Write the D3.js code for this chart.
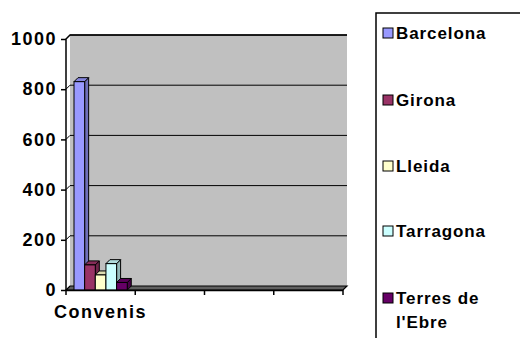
<!DOCTYPE html>
<html>
<head>
<meta charset="utf-8">
<script src="https://cdn.jsdelivr.net/npm/d3@7"></script>
<style>
  html, body { margin: 0; padding: 0; background: #ffffff; }
  svg { display: block; }
  text { font-family: "Liberation Sans", Arial, sans-serif; font-weight: bold; fill: #000; }
</style>
</head>
<body>
<svg id="chart" width="520" height="338"></svg>
<script>
// Categories on the x axis (only the first one carries data)
const categories = ["Convenis", "c2", "c3", "c4"];
const categoryLabels = ["Convenis", "", "", ""];
// Series (one bar each inside "Convenis")
const seriesNames = ["Barcelona", "Girona", "Lleida", "Tarragona", "Terres de l'Ebre"];
const seriesValues = [830, 100, 60, 105, 30];
const seriesColors = ["#9999FF", "#993366", "#FFFFCC", "#CCFFFF", "#660066"];
// Value axis ticks
const yTicks = [0, 200, 400, 600, 800, 1000];

const svg = d3.select("#chart");
const FONT = "'Liberation Sans', Arial, sans-serif";

// Plot frame with a small oblique depth
const plotLeft = 66, plotRight = 343, plotBottom = 290, plotTop = 39;
const dx = 4, dy = -4;       // wall depth
const bdx = 4, bdy = -4;     // bar depth

const y = d3.scaleLinear().domain([0, 1000]).range([plotBottom, plotTop]);
const x = d3.scaleBand().domain(categories).range([plotLeft, plotRight]).paddingInner(0).paddingOuter(0);
const xs = d3.scaleBand().domain(seriesNames).range([8, x.bandwidth() - 8]).padding(0);

// Back wall
svg.append("rect")
  .attr("x", plotLeft + dx).attr("y", y(1000) + dy)
  .attr("width", plotRight - plotLeft).attr("height", plotBottom - y(1000))
  .attr("fill", "#C0C0C0");

// Grid lines on the back wall, joined to the axis by a short oblique stroke
const grid = svg.append("g");
yTicks.filter(t => t > 0).forEach(t => {
  grid.append("path")
    .attr("d", `M${plotLeft},${y(t)} L${plotLeft + dx},${y(t) + dy} L${plotRight + dx},${y(t) + dy}`)
    .attr("fill", "none").attr("stroke", "#000").attr("stroke-width", 1);
});

// Floor
svg.append("path")
  .attr("d", `M${plotLeft},${plotBottom} L${plotLeft + dx},${plotBottom + dy} L${plotRight + dx},${plotBottom + dy} L${plotRight},${plotBottom} Z`)
  .attr("fill", "#606060").attr("stroke", "#000").attr("stroke-width", 1.2);

// Bars drawn as simple oblique prisms
const bars = svg.append("g");
seriesNames.forEach((name, i) => {
  const x0 = x(categories[0]) + xs(name);
  const w = xs.bandwidth();
  const y0 = y(seriesValues[i]);
  const c = d3.color(seriesColors[i]);
  // side face
  bars.append("path")
    .attr("d", `M${x0 + w},${y0} L${x0 + w + bdx},${y0 + bdy} L${x0 + w + bdx},${plotBottom + bdy} L${x0 + w},${plotBottom} Z`)
    .attr("fill", c.darker(0.9)).attr("stroke", "#000").attr("stroke-width", 1);
  // top face
  bars.append("path")
    .attr("d", `M${x0},${y0} L${x0 + bdx},${y0 + bdy} L${x0 + w + bdx},${y0 + bdy} L${x0 + w},${y0} Z`)
    .attr("fill", c.darker(0.4)).attr("stroke", "#000").attr("stroke-width", 1);
  // front face
  bars.append("rect")
    .attr("x", x0).attr("y", y0).attr("width", w).attr("height", plotBottom - y0)
    .attr("fill", seriesColors[i]).attr("stroke", "#000").attr("stroke-width", 1);
});

// Value axis
const yAxis = svg.append("g").attr("transform", `translate(${plotLeft},0)`)
  .call(d3.axisLeft(y).tickValues(yTicks).tickSize(5).tickPadding(4).tickFormat(d3.format("d")));
yAxis.select(".domain").remove();
yAxis.attr("font-family", FONT).attr("font-size", 18);
yAxis.selectAll("line").attr("stroke", "#000").attr("stroke-width", 1.5);
yAxis.selectAll("text").attr("fill", "#000").attr("font-weight", "bold").attr("letter-spacing", 1.5);
svg.append("path")
  .attr("d", `M${plotLeft},${plotBottom} L${plotLeft},${y(1000)} L${plotLeft + dx},${y(1000) + dy} L${plotRight + dx},${y(1000) + dy}`)
  .attr("fill", "none").attr("stroke", "#000").attr("stroke-width", 1.5);

// Category axis
const xAxis = svg.append("g").attr("transform", `translate(0,${plotBottom})`)
  .call(d3.axisBottom(x).tickSize(0).tickPadding(0).tickFormat((d, i) => categoryLabels[i]));
xAxis.attr("font-family", FONT).attr("font-size", 18);
xAxis.select(".domain").attr("stroke", "#000").attr("stroke-width", 1.5).attr("d", `M${plotLeft},0.5H${plotRight}`);
xAxis.selectAll("text").attr("dy", "1.55em").attr("fill", "#000")
  .attr("font-weight", "bold").attr("letter-spacing", 1.5);
const edges = [plotLeft].concat(categories.map(c => x(c) + x.bandwidth()));
xAxis.selectAll("line.edge").data(edges).enter().append("line").attr("class", "edge")
  .attr("x1", d => d).attr("x2", d => d).attr("y1", 0).attr("y2", 5)
  .attr("stroke", "#000").attr("stroke-width", 1.5);

// Legend
const lg = svg.append("g");
lg.append("rect").attr("x", 376).attr("y", 13).attr("width", 200).attr("height", 400)
  .attr("fill", "#fff").attr("stroke", "#000").attr("stroke-width", 1.5);
const legendY = [33, 100, 166, 231, 298];
seriesNames.forEach((name, i) => {
  const cy = legendY[i];
  lg.append("rect").attr("x", 383).attr("y", cy - 5).attr("width", 10).attr("height", 10)
    .attr("fill", seriesColors[i]).attr("stroke", "#000").attr("stroke-width", 1);
  const t = lg.append("text").attr("x", 396).attr("y", cy + 6)
    .attr("font-size", 17).attr("letter-spacing", 0.9);
  if (name === "Terres de l'Ebre") {
    t.append("tspan").attr("x", 396).text("Terres de");
    t.append("tspan").attr("x", 396).attr("dy", 24).text("l'Ebre");
  } else {
    t.text(name);
  }
});
</script>
</body>
</html>
